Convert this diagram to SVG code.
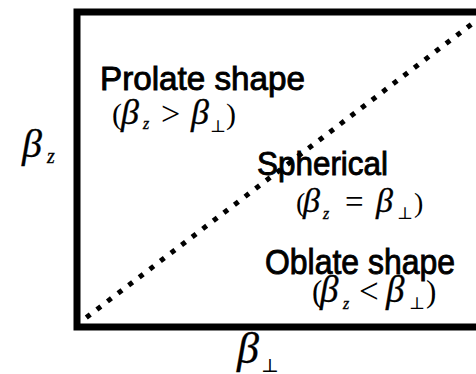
<svg xmlns="http://www.w3.org/2000/svg" width="476" height="374" viewBox="0 0 476 374">
<style>
.sans{font-family:"Liberation Sans",Arial,sans-serif;fill:#000;stroke:#000;stroke-width:0.9}
.m{font-family:"Liberation Serif","Times New Roman",serif;font-style:italic;fill:#000;stroke:#000;stroke-width:0.3}
.r{font-family:"Liberation Serif","Times New Roman",serif;font-style:normal;fill:#000}
.sym{font-family:"DejaVu Serif","Liberation Serif",serif;font-style:normal;fill:#000}
</style>
<rect x="0" y="0" width="476" height="374" fill="#fff"/>
<g id="frame">
<path d="M480 12 H77 V327 H480" fill="none" stroke="#000" stroke-width="7"/>
</g>
<g id="connectors">
<line x1="86.3" y1="317.5" x2="480" y2="17.7" stroke="#000" stroke-width="5" stroke-dasharray="5 8.3"/>
</g>
<g id="axis-z">
<text class="m" x="22" y="157" font-size="40">β</text>
<text class="m" x="47" y="163" font-size="20">z</text>
</g>
<g id="axis-perp">
<text class="m" x="237" y="363" font-size="44">β</text>
<text class="sym" x="261" y="372" font-size="19">⊥</text>
</g>
<g id="prolate">
<text class="sans" x="100" y="90" font-size="33" textLength="205" lengthAdjust="spacingAndGlyphs">Prolate shape</text>
<text class="r" x="112" y="124" font-size="30">(</text>
<text class="m" x="121" y="124" font-size="36">β</text>
<text class="m" x="143" y="129" font-size="16">z</text>
<text class="r" x="161" y="125" font-size="34">&gt;</text>
<text class="m" x="191" y="124" font-size="36">β</text>
<text class="sym" x="210" y="132" font-size="17">⊥</text>
<text class="r" x="226" y="124" font-size="30">)</text>
</g>
<g id="spherical">
<text class="sans" x="257" y="175" font-size="33" textLength="131" lengthAdjust="spacingAndGlyphs">Spherical</text>
<text class="r" x="296" y="212" font-size="28">(</text>
<text class="m" x="303" y="212" font-size="34">β</text>
<text class="m" x="323" y="219" font-size="16">z</text>
<text class="r" x="345" y="213" font-size="33">=</text>
<text class="m" x="376" y="212" font-size="34">β</text>
<text class="sym" x="397" y="219" font-size="17">⊥</text>
<text class="r" x="414" y="212" font-size="28">)</text>
</g>
<g id="oblate">
<text class="sans" x="265" y="274" font-size="35" textLength="190" lengthAdjust="spacingAndGlyphs">Oblate shape</text>
<text class="r" x="312" y="302" font-size="31">(</text>
<text class="m" x="320" y="302" font-size="37">β</text>
<text class="m" x="343" y="309" font-size="16">z</text>
<text class="r" x="359" y="303" font-size="35">&lt;</text>
<text class="m" x="386" y="302" font-size="37">β</text>
<text class="sym" x="409" y="309" font-size="17">⊥</text>
<text class="r" x="426" y="302" font-size="31">)</text>
</g>
</svg>
